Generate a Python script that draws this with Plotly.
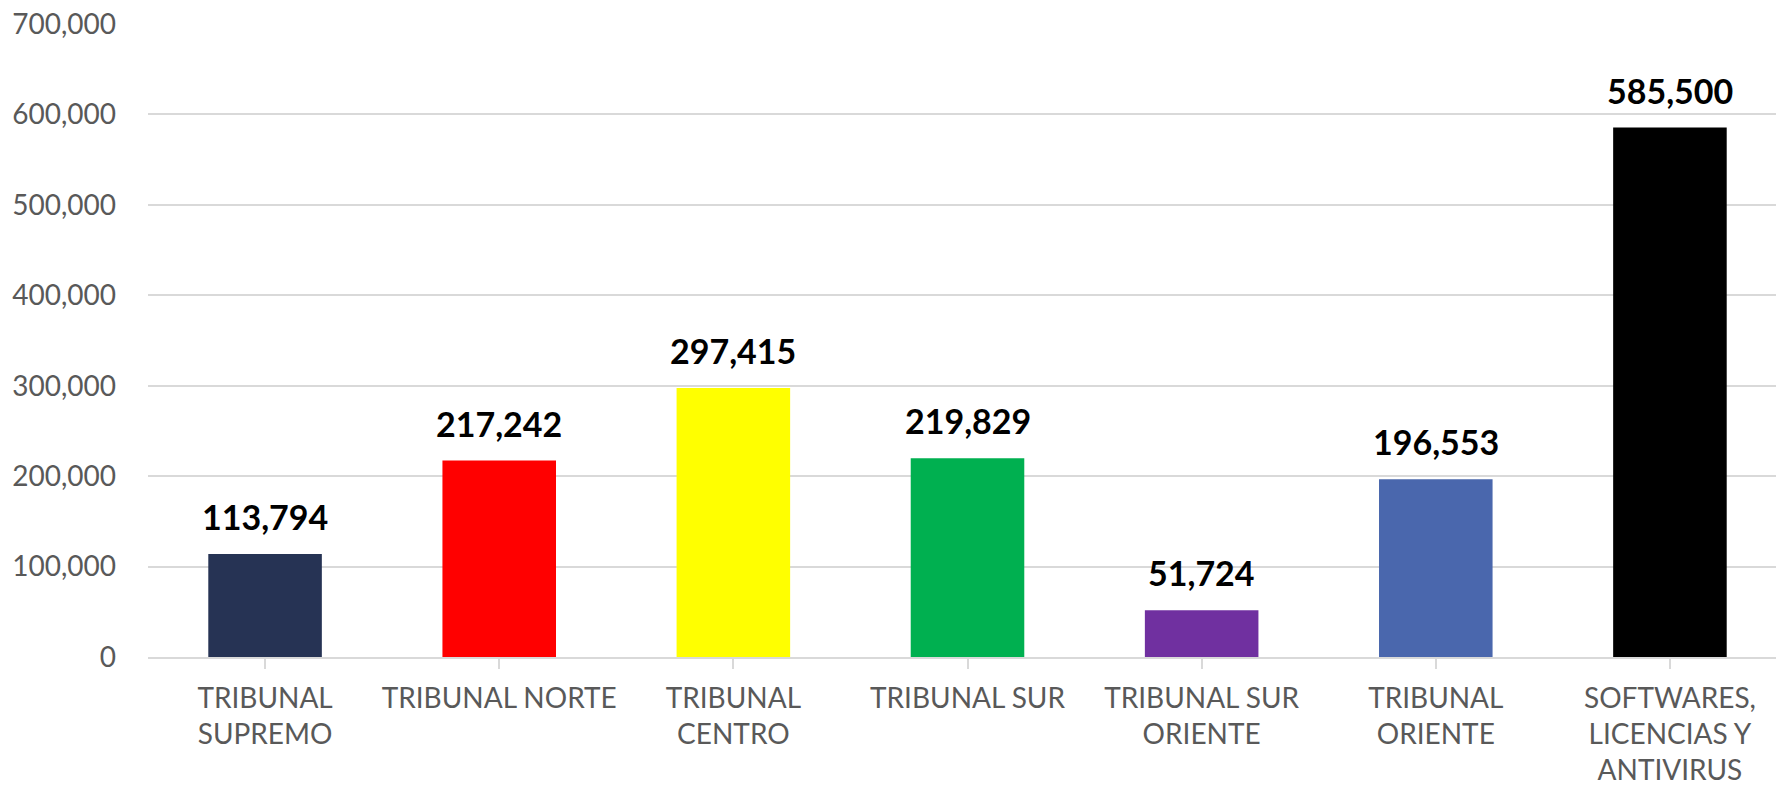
import plotly.graph_objects as go

categories = [
    "TRIBUNAL<br>SUPREMO",
    "TRIBUNAL NORTE",
    "TRIBUNAL<br>CENTRO",
    "TRIBUNAL SUR",
    "TRIBUNAL SUR<br>ORIENTE",
    "TRIBUNAL<br>ORIENTE",
    "SOFTWARES,<br>LICENCIAS Y<br>ANTIVIRUS",
]
values = [113794, 217242, 297415, 219829, 51724, 196553, 585500]
colors = ["#263354", "#FF0000", "#FFFF00", "#00B050", "#7030A0", "#4A67AD", "#000000"]
y_ticks = [0, 100000, 200000, 300000, 400000, 500000, 600000, 700000]

FONT = "Lato"
GRAY = "#595959"
GRID = "#D9D9D9"

idx = list(range(len(categories)))

fig = go.Figure()
fig.add_trace(go.Bar(
    x=idx,
    y=values,
    marker=dict(color=colors, line=dict(width=0)),
    width=0.485,
    hoverinfo="skip",
))

for i, v in zip(idx, values):
    fig.add_annotation(
        x=i, y=v, text=f"<b>{v:,}</b>", showarrow=False,
        yanchor="bottom", yshift=15,
        font=dict(family=FONT, size=34, color="#000000"),
    )

fig.update_layout(
    width=1776, height=788,
    margin=dict(l=148, r=0, t=24, b=131),
    paper_bgcolor="white", plot_bgcolor="white",
    showlegend=False,
    font=dict(family=FONT, size=28, color=GRAY),
)
fig.update_xaxes(
    tickmode="array", tickvals=idx, ticktext=categories,
    range=[-0.5, 6.453],
    showgrid=False, zeroline=False,
    showline=True, linecolor=GRID, linewidth=2,
    ticks="outside", tickson="boundaries", ticklen=10, tickcolor=GRID, tickwidth=2,
    ticklabelstandoff=5,
    tickfont=dict(family=FONT, size=28, color=GRAY),
)
fig.update_yaxes(
    range=[0, 700000],
    tickmode="array", tickvals=y_ticks, ticktext=[f"{t:,}" for t in y_ticks],
    showgrid=True, gridcolor=GRID, gridwidth=2,
    zeroline=False, showline=False,
    ticks="", ticklabelstandoff=31,
    tickfont=dict(family=FONT, size=28, color=GRAY),
)

fig.write_html(
    "out.html",
    config={"displayModeBar": False},
    post_script="document.body.style.margin='0';document.body.style.overflow='hidden';",
)
